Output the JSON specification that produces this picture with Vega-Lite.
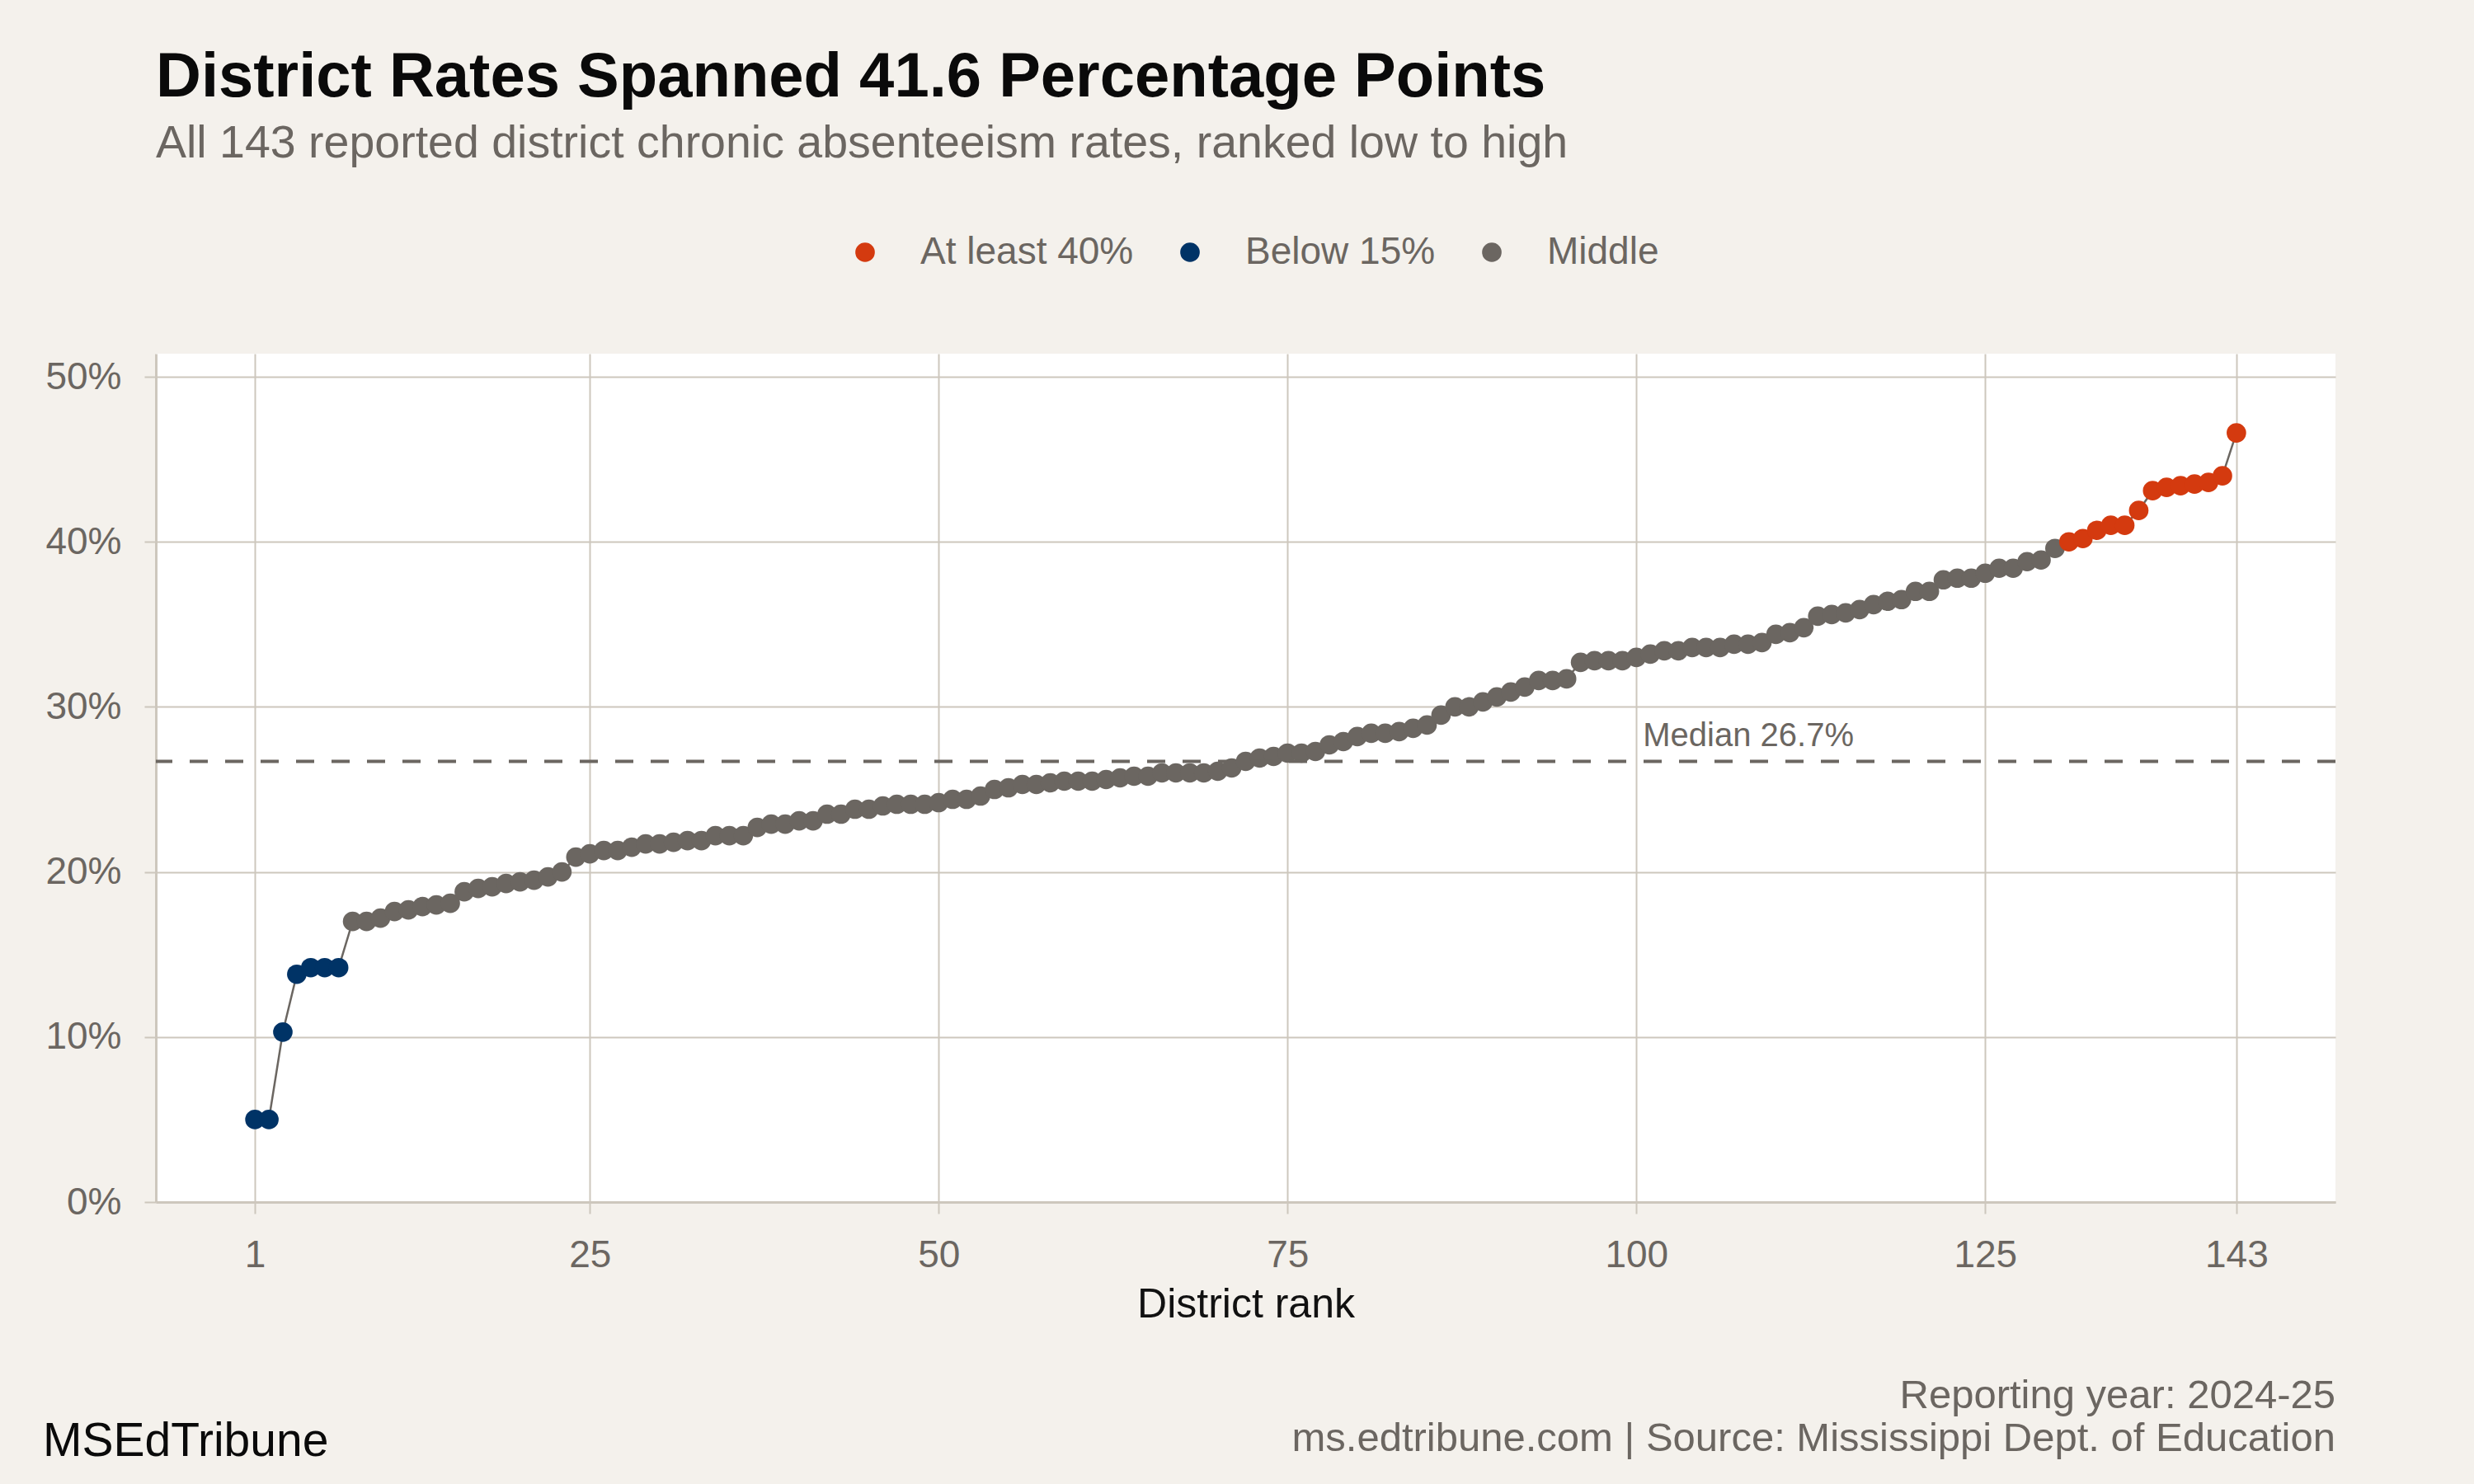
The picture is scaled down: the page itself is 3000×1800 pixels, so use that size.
{
  "$schema": "https://vega.github.io/schema/vega-lite/v6.json",
  "width": 2643,
  "height": 1029,
  "autosize": {"type": "none"},
  "padding": {"left": 189, "top": 429, "right": 168, "bottom": 342},
  "background": "#f4f1ec",
  "title": {
    "text": "District Rates Spanned 41.6 Percentage Points",
    "subtitle": "All 143 reported district chronic absenteeism rates, ranked low to high",
    "anchor": "start",
    "frame": "group",
    "font": "Liberation Sans",
    "fontSize": 76,
    "fontWeight": "bold",
    "color": "#0a0a0a",
    "subtitleFont": "Liberation Sans",
    "subtitleFontSize": 55.5,
    "subtitleColor": "#6b6661",
    "subtitlePadding": 14,
    "offset": 80
  },
  "data": {
    "values": [
      {"rank": 1, "rate": 5.0, "band": "Below 15%"},
      {"rank": 2, "rate": 5.0, "band": "Below 15%"},
      {"rank": 3, "rate": 10.3, "band": "Below 15%"},
      {"rank": 4, "rate": 13.8, "band": "Below 15%"},
      {"rank": 5, "rate": 14.2, "band": "Below 15%"},
      {"rank": 6, "rate": 14.2, "band": "Below 15%"},
      {"rank": 7, "rate": 14.2, "band": "Below 15%"},
      {"rank": 8, "rate": 17.0, "band": "Middle"},
      {"rank": 9, "rate": 17.0, "band": "Middle"},
      {"rank": 10, "rate": 17.2, "band": "Middle"},
      {"rank": 11, "rate": 17.6, "band": "Middle"},
      {"rank": 12, "rate": 17.7, "band": "Middle"},
      {"rank": 13, "rate": 17.9, "band": "Middle"},
      {"rank": 14, "rate": 18.0, "band": "Middle"},
      {"rank": 15, "rate": 18.1, "band": "Middle"},
      {"rank": 16, "rate": 18.8, "band": "Middle"},
      {"rank": 17, "rate": 19.0, "band": "Middle"},
      {"rank": 18, "rate": 19.1, "band": "Middle"},
      {"rank": 19, "rate": 19.3, "band": "Middle"},
      {"rank": 20, "rate": 19.4, "band": "Middle"},
      {"rank": 21, "rate": 19.5, "band": "Middle"},
      {"rank": 22, "rate": 19.7, "band": "Middle"},
      {"rank": 23, "rate": 20.0, "band": "Middle"},
      {"rank": 24, "rate": 20.9, "band": "Middle"},
      {"rank": 25, "rate": 21.1, "band": "Middle"},
      {"rank": 26, "rate": 21.3, "band": "Middle"},
      {"rank": 27, "rate": 21.3, "band": "Middle"},
      {"rank": 28, "rate": 21.5, "band": "Middle"},
      {"rank": 29, "rate": 21.7, "band": "Middle"},
      {"rank": 30, "rate": 21.7, "band": "Middle"},
      {"rank": 31, "rate": 21.8, "band": "Middle"},
      {"rank": 32, "rate": 21.9, "band": "Middle"},
      {"rank": 33, "rate": 21.9, "band": "Middle"},
      {"rank": 34, "rate": 22.2, "band": "Middle"},
      {"rank": 35, "rate": 22.2, "band": "Middle"},
      {"rank": 36, "rate": 22.2, "band": "Middle"},
      {"rank": 37, "rate": 22.7, "band": "Middle"},
      {"rank": 38, "rate": 22.9, "band": "Middle"},
      {"rank": 39, "rate": 22.9, "band": "Middle"},
      {"rank": 40, "rate": 23.1, "band": "Middle"},
      {"rank": 41, "rate": 23.1, "band": "Middle"},
      {"rank": 42, "rate": 23.5, "band": "Middle"},
      {"rank": 43, "rate": 23.5, "band": "Middle"},
      {"rank": 44, "rate": 23.8, "band": "Middle"},
      {"rank": 45, "rate": 23.8, "band": "Middle"},
      {"rank": 46, "rate": 24.0, "band": "Middle"},
      {"rank": 47, "rate": 24.1, "band": "Middle"},
      {"rank": 48, "rate": 24.1, "band": "Middle"},
      {"rank": 49, "rate": 24.1, "band": "Middle"},
      {"rank": 50, "rate": 24.2, "band": "Middle"},
      {"rank": 51, "rate": 24.4, "band": "Middle"},
      {"rank": 52, "rate": 24.4, "band": "Middle"},
      {"rank": 53, "rate": 24.6, "band": "Middle"},
      {"rank": 54, "rate": 25.0, "band": "Middle"},
      {"rank": 55, "rate": 25.1, "band": "Middle"},
      {"rank": 56, "rate": 25.3, "band": "Middle"},
      {"rank": 57, "rate": 25.3, "band": "Middle"},
      {"rank": 58, "rate": 25.4, "band": "Middle"},
      {"rank": 59, "rate": 25.5, "band": "Middle"},
      {"rank": 60, "rate": 25.5, "band": "Middle"},
      {"rank": 61, "rate": 25.5, "band": "Middle"},
      {"rank": 62, "rate": 25.6, "band": "Middle"},
      {"rank": 63, "rate": 25.7, "band": "Middle"},
      {"rank": 64, "rate": 25.8, "band": "Middle"},
      {"rank": 65, "rate": 25.8, "band": "Middle"},
      {"rank": 66, "rate": 26.0, "band": "Middle"},
      {"rank": 67, "rate": 26.0, "band": "Middle"},
      {"rank": 68, "rate": 26.0, "band": "Middle"},
      {"rank": 69, "rate": 26.0, "band": "Middle"},
      {"rank": 70, "rate": 26.1, "band": "Middle"},
      {"rank": 71, "rate": 26.3, "band": "Middle"},
      {"rank": 72, "rate": 26.7, "band": "Middle"},
      {"rank": 73, "rate": 26.9, "band": "Middle"},
      {"rank": 74, "rate": 27.0, "band": "Middle"},
      {"rank": 75, "rate": 27.2, "band": "Middle"},
      {"rank": 76, "rate": 27.2, "band": "Middle"},
      {"rank": 77, "rate": 27.3, "band": "Middle"},
      {"rank": 78, "rate": 27.7, "band": "Middle"},
      {"rank": 79, "rate": 27.9, "band": "Middle"},
      {"rank": 80, "rate": 28.2, "band": "Middle"},
      {"rank": 81, "rate": 28.4, "band": "Middle"},
      {"rank": 82, "rate": 28.4, "band": "Middle"},
      {"rank": 83, "rate": 28.5, "band": "Middle"},
      {"rank": 84, "rate": 28.7, "band": "Middle"},
      {"rank": 85, "rate": 28.9, "band": "Middle"},
      {"rank": 86, "rate": 29.5, "band": "Middle"},
      {"rank": 87, "rate": 30.0, "band": "Middle"},
      {"rank": 88, "rate": 30.0, "band": "Middle"},
      {"rank": 89, "rate": 30.3, "band": "Middle"},
      {"rank": 90, "rate": 30.6, "band": "Middle"},
      {"rank": 91, "rate": 30.9, "band": "Middle"},
      {"rank": 92, "rate": 31.2, "band": "Middle"},
      {"rank": 93, "rate": 31.6, "band": "Middle"},
      {"rank": 94, "rate": 31.6, "band": "Middle"},
      {"rank": 95, "rate": 31.7, "band": "Middle"},
      {"rank": 96, "rate": 32.7, "band": "Middle"},
      {"rank": 97, "rate": 32.8, "band": "Middle"},
      {"rank": 98, "rate": 32.8, "band": "Middle"},
      {"rank": 99, "rate": 32.8, "band": "Middle"},
      {"rank": 100, "rate": 33.0, "band": "Middle"},
      {"rank": 101, "rate": 33.2, "band": "Middle"},
      {"rank": 102, "rate": 33.4, "band": "Middle"},
      {"rank": 103, "rate": 33.4, "band": "Middle"},
      {"rank": 104, "rate": 33.6, "band": "Middle"},
      {"rank": 105, "rate": 33.6, "band": "Middle"},
      {"rank": 106, "rate": 33.6, "band": "Middle"},
      {"rank": 107, "rate": 33.8, "band": "Middle"},
      {"rank": 108, "rate": 33.8, "band": "Middle"},
      {"rank": 109, "rate": 33.9, "band": "Middle"},
      {"rank": 110, "rate": 34.4, "band": "Middle"},
      {"rank": 111, "rate": 34.5, "band": "Middle"},
      {"rank": 112, "rate": 34.8, "band": "Middle"},
      {"rank": 113, "rate": 35.5, "band": "Middle"},
      {"rank": 114, "rate": 35.6, "band": "Middle"},
      {"rank": 115, "rate": 35.7, "band": "Middle"},
      {"rank": 116, "rate": 35.9, "band": "Middle"},
      {"rank": 117, "rate": 36.2, "band": "Middle"},
      {"rank": 118, "rate": 36.4, "band": "Middle"},
      {"rank": 119, "rate": 36.5, "band": "Middle"},
      {"rank": 120, "rate": 37.0, "band": "Middle"},
      {"rank": 121, "rate": 37.0, "band": "Middle"},
      {"rank": 122, "rate": 37.7, "band": "Middle"},
      {"rank": 123, "rate": 37.8, "band": "Middle"},
      {"rank": 124, "rate": 37.8, "band": "Middle"},
      {"rank": 125, "rate": 38.1, "band": "Middle"},
      {"rank": 126, "rate": 38.4, "band": "Middle"},
      {"rank": 127, "rate": 38.4, "band": "Middle"},
      {"rank": 128, "rate": 38.8, "band": "Middle"},
      {"rank": 129, "rate": 38.9, "band": "Middle"},
      {"rank": 130, "rate": 39.6, "band": "Middle"},
      {"rank": 131, "rate": 40.0, "band": "At least 40%"},
      {"rank": 132, "rate": 40.2, "band": "At least 40%"},
      {"rank": 133, "rate": 40.7, "band": "At least 40%"},
      {"rank": 134, "rate": 41.0, "band": "At least 40%"},
      {"rank": 135, "rate": 41.0, "band": "At least 40%"},
      {"rank": 136, "rate": 41.9, "band": "At least 40%"},
      {"rank": 137, "rate": 43.1, "band": "At least 40%"},
      {"rank": 138, "rate": 43.3, "band": "At least 40%"},
      {"rank": 139, "rate": 43.4, "band": "At least 40%"},
      {"rank": 140, "rate": 43.5, "band": "At least 40%"},
      {"rank": 141, "rate": 43.6, "band": "At least 40%"},
      {"rank": 142, "rate": 44.0, "band": "At least 40%"},
      {"rank": 143, "rate": 46.6, "band": "At least 40%"}
    ]
  },
  "layer": [
    {
      "mark": {"type": "line", "color": "#6b6661", "strokeWidth": 2.5},
      "encoding": {
        "x": {
          "field": "rank",
          "type": "quantitative",
          "title": "District rank",
          "scale": {"domain": [-6.1, 150.1], "nice": false, "zero": false},
          "axis": {
            "values": [1, 25, 50, 75, 100, 125, 143],
            "titleFontSize": 50,
            "titleFontWeight": "normal",
            "titleColor": "#111111",
            "titlePadding": 12,
            "labelFlush": false,
            "labelOverlap": false
          }
        },
        "y": {
          "field": "rate",
          "type": "quantitative",
          "title": null,
          "scale": {"domain": [0, 51.4], "nice": false, "zero": true},
          "axis": {
            "values": [0, 10, 20, 30, 40, 50],
            "labelExpr": "datum.value + '%'"
          }
        }
      }
    },
    {
      "mark": {"type": "circle", "size": 560, "opacity": 1},
      "encoding": {
        "x": {"field": "rank", "type": "quantitative", "scale": {"domain": [-6.1, 150.1], "nice": false, "zero": false}},
        "y": {"field": "rate", "type": "quantitative", "scale": {"domain": [0, 51.4], "nice": false, "zero": true}},
        "color": {
          "field": "band",
          "type": "nominal",
          "scale": {
            "domain": ["At least 40%", "Below 15%", "Middle"],
            "range": ["#d43a0f", "#003366", "#6b6661"]
          },
          "legend": {
            "orient": "none",
            "legendX": 837,
            "legendY": -146,
            "direction": "horizontal",
            "title": null,
            "padding": 0,
            "labelFont": "Liberation Sans",
            "labelFontSize": 46,
            "labelColor": "#6b6661",
            "labelLimit": 0,
            "symbolType": "circle",
            "symbolSize": 560,
            "symbolStrokeWidth": 0,
            "labelOffset": 44,
            "columnPadding": 45
          }
        }
      }
    },
    {
      "data": {"values": [{"median": 26.7}]},
      "mark": {"type": "rule", "color": "#6b6661", "strokeWidth": 4, "strokeDash": [22, 21]},
      "encoding": {
        "y": {"field": "median", "type": "quantitative", "scale": {"domain": [0, 51.4], "nice": false, "zero": true}}
      }
    },
    {
      "data": {"values": [{"rank": 100, "median": 26.7, "label": "Median 26.7%"}]},
      "mark": {"type": "text", "align": "left", "baseline": "alphabetic", "dx": 8, "dy": -18, "fontSize": 40, "color": "#6b6661", "font": "Liberation Sans"},
      "encoding": {
        "x": {"field": "rank", "type": "quantitative", "scale": {"domain": [-6.1, 150.1], "nice": false, "zero": false}},
        "y": {"field": "median", "type": "quantitative", "scale": {"domain": [0, 51.4], "nice": false, "zero": true}},
        "text": {"field": "label"}
      }
    },
    {
      "data": {"values": [{"rank": -6.1, "rate": 0, "label": "MSEdTribune"}]},
      "mark": {"type": "text", "align": "left", "baseline": "alphabetic", "dx": -137, "dy": 308, "fontSize": 57, "color": "#0a0a0a", "font": "Liberation Sans"},
      "encoding": {
        "x": {"field": "rank", "type": "quantitative", "scale": {"domain": [-6.1, 150.1], "nice": false, "zero": false}},
        "y": {"field": "rate", "type": "quantitative", "scale": {"domain": [0, 51.4], "nice": false, "zero": true}},
        "text": {"field": "label"}
      }
    },
    {
      "data": {"values": [{"rank": 150.1, "rate": 0}]},
      "mark": {"type": "text", "align": "right", "baseline": "alphabetic", "dy": 250, "lineHeight": 52, "fontSize": 49, "color": "#6b6661", "font": "Liberation Sans"},
      "encoding": {
        "x": {"field": "rank", "type": "quantitative", "scale": {"domain": [-6.1, 150.1], "nice": false, "zero": false}},
        "y": {"field": "rate", "type": "quantitative", "scale": {"domain": [0, 51.4], "nice": false, "zero": true}},
        "text": {"value": ["Reporting year: 2024-25", "ms.edtribune.com | Source: Mississippi Dept. of Education"]}
      }
    }
  ],
  "config": {
    "font": "Liberation Sans",
    "view": {"fill": "#ffffff", "stroke": null},
    "axis": {
      "gridColor": "#cdc7bd",
      "gridWidth": 2,
      "domainColor": "#cdc7bd",
      "domainWidth": 3,
      "tickColor": "#cdc7bd",
      "tickWidth": 2,
      "tickSize": 14,
      "labelColor": "#6b6661",
      "labelFont": "Liberation Sans",
      "labelFontSize": 46,
      "labelPadding": 28,
      "titleFont": "Liberation Sans"
    }
  }
}
